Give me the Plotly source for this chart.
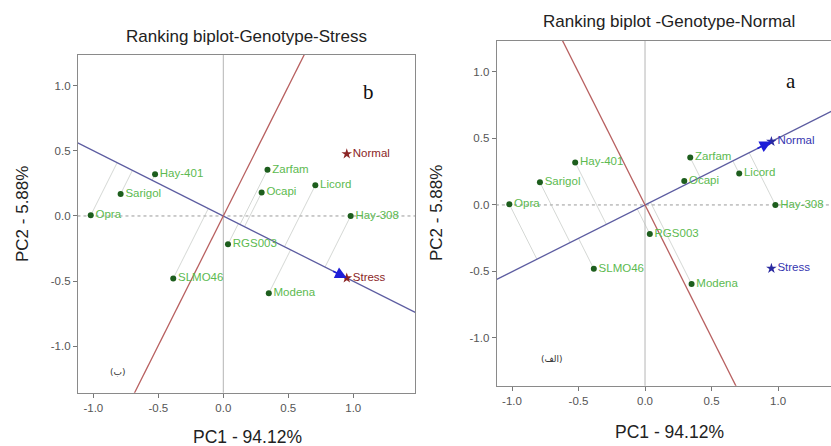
import numpy as np
import plotly.graph_objects as go

genotypes = ["Opra", "Sarigol", "Hay-401", "Zarfam", "Ocapi", "Licord", "Hay-308", "RGS003", "SLMO46", "Modena"]
pc1 = [-1.02, -0.79, -0.525, 0.34, 0.295, 0.708, 0.98, 0.036, -0.385, 0.35]
pc2 = [0.005, 0.17, 0.32, 0.356, 0.18, 0.236, 0.0, -0.218, -0.48, -0.595]
environments = ["Normal", "Stress"]
env_pc1 = [0.95, 0.95]
env_pc2 = [0.477, -0.477]
tick_vals = [-1.0, -0.5, 0.0, 0.5, 1.0]
tick_text = ["-1.0", "-0.5", "0.0", "0.5", "1.0"]

W, H = 831, 446
fig = go.Figure()

GREEN_PT = "#1d5e1d"
GREEN_TXT = "#5cba50"
ATC_COL = "#5c5ca0"
PERP_COL = "#b86060"
PROJ_COL = "rgba(185,190,185,0.6)"
FONT = "Liberation Sans, Arial, sans-serif"

panels = [
    ("x", "y", 1, "#8b2525", "#8b2525"),
    ("x2", "y2", 0, "#3535b0", "#2a2aa0"),
]

for xa, ya, ei, etxt, emk in panels:
    ex, ey = env_pc1[ei], env_pc2[ei]
    u = np.array([ex, ey]) / np.hypot(ex, ey)
    v = np.array([-u[1], u[0]])
    fig.add_trace(go.Scatter(x=[-5, 5], y=[0, 0], mode="lines", xaxis=xa, yaxis=ya,
                             line=dict(color="#9a9a9a", width=1, dash="dot"), showlegend=False, hoverinfo="skip"))
    fig.add_trace(go.Scatter(x=[0, 0], y=[-5, 5], mode="lines", xaxis=xa, yaxis=ya,
                             line=dict(color="#b5b5b5", width=1), showlegend=False, hoverinfo="skip"))
    for gx, gy in zip(pc1, pc2):
        p = np.array([gx, gy])
        f = (p @ u) * u
        fig.add_trace(go.Scatter(x=[gx, f[0]], y=[gy, f[1]], mode="lines", xaxis=xa, yaxis=ya,
                                 line=dict(color=PROJ_COL, width=1), showlegend=False, hoverinfo="skip"))
    fig.add_trace(go.Scatter(x=[-5 * u[0], 5 * u[0]], y=[-5 * u[1], 5 * u[1]], mode="lines", xaxis=xa, yaxis=ya,
                             line=dict(color=ATC_COL, width=1.3), showlegend=False, hoverinfo="skip"))
    fig.add_trace(go.Scatter(x=[-5 * v[0], 5 * v[0]], y=[-5 * v[1], 5 * v[1]], mode="lines", xaxis=xa, yaxis=ya,
                             line=dict(color=PERP_COL, width=1.3), showlegend=False, hoverinfo="skip"))
    fig.add_trace(go.Scatter(x=pc1, y=pc2, mode="markers+text", text=genotypes, textposition="middle right",
                             xaxis=xa, yaxis=ya, marker=dict(color=GREEN_PT, size=6),
                             textfont=dict(color=GREEN_TXT, size=11.5, family=FONT), showlegend=False))
    fig.add_trace(go.Scatter(x=env_pc1, y=env_pc2, mode="markers+text", text=environments, textposition="middle right",
                             xaxis=xa, yaxis=ya, marker=dict(color=emk, size=8, symbol="star"),
                             textfont=dict(color=etxt, size=11.5, family=FONT), showlegend=False))
    fig.add_annotation(x=ex, y=ey, ax=ex - 0.13 * u[0], ay=ey - 0.13 * u[1], xref=xa, yref=ya,
                       axref=xa, ayref=ya, showarrow=True, arrowhead=2, arrowsize=1.45, arrowwidth=1.6,
                       arrowcolor="#1e1ed8", text="")

axis_common = dict(tickvals=tick_vals, ticktext=tick_text, ticks="outside", ticklen=4, tickcolor="#777",
                   showline=True, linecolor="#8a8a8a", linewidth=1.2, showgrid=False, zeroline=False,
                   tickfont=dict(size=11.5, color="#555", family=FONT))

fig.update_layout(
    width=W, height=H, margin=dict(l=0, r=0, t=0, b=0),
    plot_bgcolor="white", paper_bgcolor="white",
    xaxis=dict(domain=[78 / W, 415 / W], range=[-1.118, 1.475], anchor="y", mirror=True, **axis_common),
    yaxis=dict(domain=[1 - 392.7 / H, 1 - 55 / H], range=[-1.359, 1.238], anchor="x", mirror=True, **axis_common),
    xaxis2=dict(domain=[496.7 / W, 1.0], range=[-1.115, 1.398], anchor="y2", mirror=True, **axis_common),
    yaxis2=dict(domain=[1 - 385.7 / H, 1 - 40.7 / H], range=[-1.359, 1.235], anchor="x2", mirror=False, **axis_common),
)

def ann(text, x, y, size, color="#222", family=FONT, angle=0):
    fig.add_annotation(text=text, x=x / W, y=1 - y / H, xref="paper", yref="paper", showarrow=False,
                       xanchor="center", yanchor="middle", textangle=angle,
                       font=dict(size=size, color=color, family=family))

ann("Ranking biplot-Genotype-Stress", 246.7, 36.5, 17)
ann("Ranking biplot -Genotype-Normal", 669, 21, 17)
ann("PC1 - 94.12%", 247.5, 437, 17.5)
ann("PC1 - 94.12%", 669, 432, 17.5)
ann("PC2 - 5.88%", 22, 214, 17, angle=-90)
ann("PC2 - 5.88%", 437, 213, 17, angle=-90)
ann("b", 368, 92, 21, color="#111", family="Liberation Serif, Times New Roman, serif")
ann("a", 791, 81, 21, color="#111", family="Liberation Serif, Times New Roman, serif")
ann("(ب)", 118, 372, 9, color="#333", family="DejaVu Sans, Noto Sans, sans-serif")
ann("(الف)", 552, 359, 9, color="#333", family="DejaVu Sans, Noto Sans, sans-serif")

fig.write_html("out.html")
